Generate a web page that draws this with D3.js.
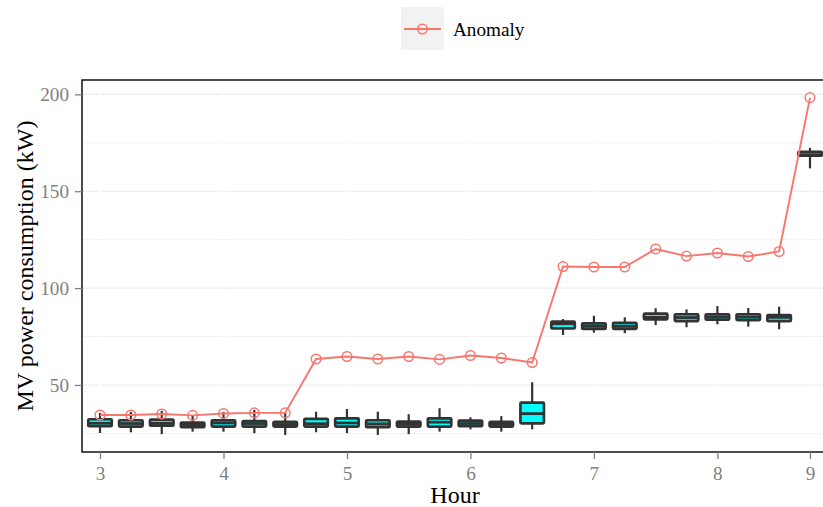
<!DOCTYPE html>
<html>
<head>
<meta charset="utf-8">
<script src="https://cdn.jsdelivr.net/npm/d3@7"></script>
<style>
  body { margin: 0; background: #fff; }
  svg { display: block; font-family: "Liberation Serif", "Times New Roman", serif; }
</style>
</head>
<body>
<div id="chart"></div>
<script>
// quarter-hour slots
var slots = ["3:00", "3:15", "3:30", "3:45", "4:00", "4:15", "4:30", "4:45",
             "5:00", "5:15", "5:30", "5:45", "6:00", "6:15", "6:30", "6:45",
             "7:00", "7:15", "7:30", "7:45", "8:00", "8:15", "8:30", "8:45"];

// box plot stats per slot (kW)
var whiskerLow  = [25.2, 25.6, 24.6, 25.9, 25.9, 25.1, 24.2, 25.6, 25.1, 24.2, 24.6, 25.9,
                   27.1, 25.9, 27.1, 75.8, 77.0, 76.7, 80.9, 79.8, 81.3, 80.1, 78.7, 161.8];
var q1          = [28.7, 28.5, 29.0, 28.2, 28.5, 28.5, 28.5, 28.5, 28.5, 28.2, 28.5, 28.5,
                   28.7, 28.5, 30.2, 79.2, 78.9, 79.0, 83.9, 83.0, 83.7, 83.5, 82.9, 168.3];
var median      = [30.2, 30.1, 30.2, 29.5, 30.4, 30.1, 29.6, 30.0, 30.4, 29.9, 29.8, 30.8,
                   30.1, 29.7, 35.2, 81.6, 80.3, 80.3, 84.9, 84.8, 85.1, 85.0, 84.9, 168.8];
var q3          = [32.3, 31.8, 32.1, 30.6, 31.8, 31.4, 30.9, 32.5, 32.8, 31.8, 31.1, 32.8,
                   31.6, 30.9, 40.9, 82.7, 81.8, 82.0, 86.8, 86.5, 86.5, 86.5, 86.1, 170.3];
var whiskerHigh = [35.6, 36.1, 36.6, 34.5, 36.1, 37.1, 35.6, 36.2, 37.6, 36.2, 34.9, 38.0,
                   33.3, 33.9, 51.4, 84.0, 85.7, 84.9, 89.6, 89.0, 90.7, 89.7, 90.4, 172.4];

// anomaly series
var anomaly = [34.5, 34.5, 35.0, 34.3, 35.3, 35.6, 35.6, 63.4, 64.7, 63.4, 64.7, 63.2,
               65.2, 63.9, 61.6, 111.1, 110.9, 110.9, 120.2, 116.5, 118.1, 116.3, 118.9, 198.3];

// axis ticks
var xTickSlots  = ["3:00", "4:00", "5:00", "6:00", "7:00", "8:00", "8:45"];
var xTickLabels = ["3", "4", "5", "6", "7", "8", "9"];
var yTicks      = [50, 100, 150, 200];
var yMinor      = [25, 75, 125, 175];

var width = 823, height = 507;
var margin = { top: 80, right: -5, bottom: 55, left: 82 };
var innerW = width - margin.left - margin.right,
    innerH = height - margin.top - margin.bottom;

var svg = d3.select("#chart").append("svg")
    .attr("width", width)
    .attr("height", height);

var g = svg.append("g")
    .attr("transform", "translate(" + margin.left + "," + margin.top + ")");

var x = d3.scalePoint()
    .domain(slots)
    .range([18, 728]);

var y = d3.scaleLinear()
    .domain([15.4, 207.4])
    .range([innerH, 0]);

var red = "#F8766D", dark = "#333333";

// grid
g.selectAll("line.minor")
    .data(yMinor)
    .enter().append("line")
    .attr("x1", 0).attr("x2", innerW)
    .attr("y1", function(d) { return y(d); })
    .attr("y2", function(d) { return y(d); })
    .attr("stroke", "#F2F2F2")
    .attr("stroke-width", 1);

g.selectAll("line.major")
    .data(yTicks)
    .enter().append("line")
    .attr("x1", 0).attr("x2", innerW)
    .attr("y1", function(d) { return y(d); })
    .attr("y2", function(d) { return y(d); })
    .attr("stroke", "#EBEBEB")
    .attr("stroke-width", 1.1);

g.selectAll("line.vgrid")
    .data(xTickSlots)
    .enter().append("line")
    .attr("x1", function(d) { return x(d); })
    .attr("x2", function(d) { return x(d); })
    .attr("y1", 0).attr("y2", innerH)
    .attr("stroke", "#fff")
    .attr("stroke-width", 1.5);

// boxes
var boxW = 23.5;
var boxes = g.selectAll("g.box")
    .data(slots)
    .enter().append("g")
    .attr("class", "box");

boxes.append("line")
    .attr("x1", function(d) { return x(d); })
    .attr("x2", function(d) { return x(d); })
    .attr("y1", function(d, i) { return y(whiskerHigh[i]); })
    .attr("y2", function(d, i) { return y(whiskerLow[i]); })
    .attr("stroke", dark)
    .attr("stroke-width", 2.2);

boxes.append("rect")
    .attr("x", function(d) { return x(d) - boxW / 2; })
    .attr("y", function(d, i) { return y(q3[i]); })
    .attr("width", boxW)
    .attr("height", function(d, i) { return y(q1[i]) - y(q3[i]); })
    .attr("rx", 1)
    .attr("fill", "#00FFFF")
    .attr("stroke", dark)
    .attr("stroke-width", 2.7);

boxes.append("line")
    .attr("x1", function(d) { return x(d) - boxW / 2; })
    .attr("x2", function(d) { return x(d) + boxW / 2; })
    .attr("y1", function(d, i) { return y(median[i]); })
    .attr("y2", function(d, i) { return y(median[i]); })
    .attr("stroke", dark)
    .attr("stroke-width", 2.8);

// anomaly line + points
var line = d3.line()
    .x(function(d, i) { return x(slots[i]); })
    .y(function(d) { return y(d); });

g.append("path")
    .datum(anomaly)
    .attr("fill", "none")
    .attr("stroke", red)
    .attr("stroke-width", 1.9)
    .attr("d", line);

g.selectAll("circle.pt")
    .data(anomaly)
    .enter().append("circle")
    .attr("cx", function(d, i) { return x(slots[i]); })
    .attr("cy", function(d) { return y(d); })
    .attr("r", 4.8)
    .attr("fill", "none")
    .attr("stroke", red)
    .attr("stroke-width", 1.5);

// panel border
g.append("rect")
    .attr("x", 0).attr("y", 0)
    .attr("width", innerW).attr("height", innerH)
    .attr("fill", "none")
    .attr("stroke", "#000")
    .attr("stroke-width", 1.4);

// axes
var xAxis = d3.axisBottom(x)
    .tickValues(xTickSlots)
    .tickFormat(function(d) { return xTickLabels[xTickSlots.indexOf(d)]; })
    .tickSize(7)
    .tickPadding(7);

var yAxis = d3.axisLeft(y)
    .tickValues(yTicks)
    .tickSize(7)
    .tickPadding(6);

var gx = g.append("g")
    .attr("transform", "translate(0," + innerH + ")")
    .call(xAxis);

var gy = g.append("g").call(yAxis);

[gx, gy].forEach(function(ax) {
    ax.select(".domain").remove();
    ax.selectAll(".tick line").attr("stroke", "#7F7F7F").attr("stroke-width", 1.3);
    ax.selectAll(".tick text")
        .attr("fill", "#7F7F7F")
        .style("font-size", "19.2px")
        .style("font-family", "'Liberation Serif', 'Times New Roman', serif");
});

// axis titles
svg.append("text")
    .attr("x", margin.left + innerW / 2)
    .attr("y", 503)
    .attr("text-anchor", "middle")
    .style("font-size", "24px")
    .text("Hour");

svg.append("text")
    .attr("transform", "translate(33," + (margin.top + innerH / 2) + ") rotate(-90)")
    .attr("text-anchor", "middle")
    .style("font-size", "24px")
    .text("MV power consumption (kW)");

// legend
var legend = svg.append("g")
    .attr("transform", "translate(401,7)");

legend.append("rect")
    .attr("width", 43).attr("height", 43)
    .attr("fill", "#F2F2F2");

legend.append("line")
    .attr("x1", 3).attr("x2", 40)
    .attr("y1", 22).attr("y2", 22)
    .attr("stroke", red)
    .attr("stroke-width", 1.9);

legend.append("circle")
    .attr("cx", 21.5).attr("cy", 22)
    .attr("r", 4.8)
    .attr("fill", "none")
    .attr("stroke", red)
    .attr("stroke-width", 1.5);

legend.append("text")
    .attr("x", 52).attr("y", 22)
    .attr("dy", "0.35em")
    .style("font-size", "19.2px")
    .text("Anomaly");
</script>
</body>
</html>
